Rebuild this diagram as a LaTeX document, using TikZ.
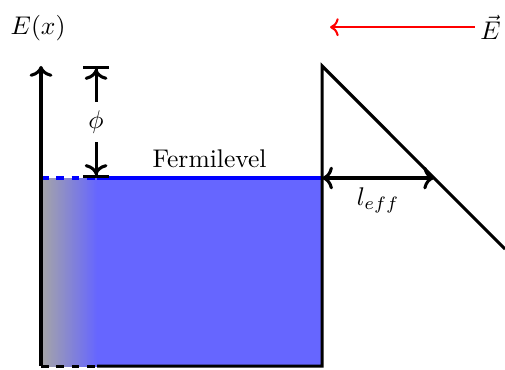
\documentclass[tikz,border=0pt]{standalone}
\usetikzlibrary{arrows.meta}
\begin{document}
\begin{tikzpicture}[
  wall/.style={very thick},
  level/.style={very thick, blue},
  metal/.style={blue!60},
]
\useasboundingbox (-0.564,-0.041) rectangle (6.38,5.034);
% Points
\coordinate (o) at (0,0);
\coordinate (grad) at (0.77,0);
\coordinate (corner) at (3.865,0);
\coordinate (top) at (3.865,4.127);
\coordinate (axtop) at (0,4.127);
\coordinate (fl) at (0,2.586);
\coordinate (flgrad) at (0.77,2.586);
\coordinate (flwall) at (3.865,2.586);
\coordinate (cross) at (5.406,2.586);
\coordinate (slopeend) at (6.38,1.61);
% Metal
\fill[metal] (grad) rectangle (flwall);
\shade[left color=gray!70, right color=blue!60] (o) rectangle (flgrad);
% Fermi level
\draw[level, dashed] (fl) -- (flgrad);
\draw[level] (flgrad) -- (flwall) node[midway, above, black] (fermi) {Fermilevel};
% Axis
\draw[wall, ->] (o) -- (axtop);
\node (ex) at (-0.04,4.65) {$E(x)$};
% Bottom, wall and slope
\draw[wall, dashed] (o) -- (grad);
\draw[wall] (grad) -- (corner) -- (top) -- (slopeend);
% Work function
\coordinate (phitop) at (0.757,4.127);
\coordinate (phibot) at (0.757,2.586);
\draw[wall, {Bar[width=10pt] To[]}-{To[] Bar[width=10pt]}] (phitop) -- (phibot) node[midway, fill=white] (phi) {$\phi$};
% Effective length
\draw[wall, <->] (flwall) -- (cross) node[midway, below] (leff) {$l_{eff}$};
% Field
\node[inner sep=2pt] (evec) at (6.18,4.66) {$\vec{E}$};
\coordinate (fieldend) at (3.975,4.66);
\draw[red, thick, ->] (evec.west) -- (fieldend);
\end{tikzpicture}
\end{document}
